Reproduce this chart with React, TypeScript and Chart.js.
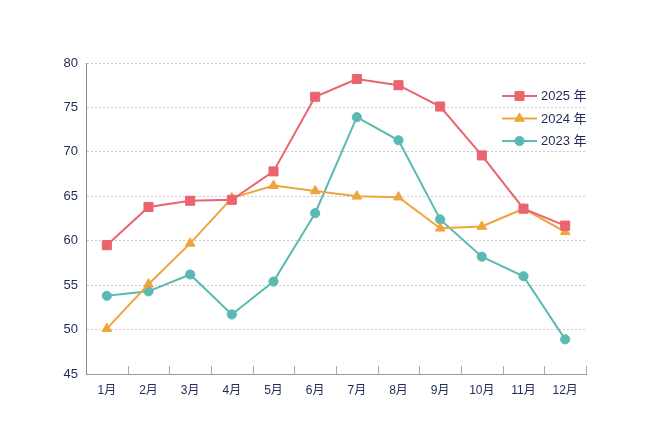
import { useRef, useEffect } from "react";
import { Chart, registerables } from "chart.js";
import { drawPoint } from "chart.js/helpers";

Chart.register(...registerables);

// Chart data
const months = ["1月", "2月", "3月", "4月", "5月", "6月", "7月", "8月", "9月", "10月", "11月", "12月"];
const seriesLabels = ["2025 年", "2024 年", "2023 年"];
const values2025 = [59.5, 63.8, 64.5, 64.6, 67.8, 76.2, 78.2, 77.5, 75.1, 69.6, 63.6, 61.7];
const values2024 = [50.1, 55.1, 59.7, 64.8, 66.2, 65.6, 65.0, 64.9, 61.4, 61.6, 63.6, 61.0];
const values2023 = [53.8, 54.3, 56.2, 51.7, 55.4, 63.1, 73.9, 71.3, 62.4, 58.2, 56.0, 48.9];
const yMin = 45;
const yMax = 80;
const yStep = 5;

const TEXT = "#1f2a56";
const FONT = "'Liberation Sans', 'Noto Sans CJK JP', sans-serif";

// Short upward tick marks between the months
const innerTicks = {
  id: "innerTicks",
  beforeDatasetsDraw(chart: any) {
    const { ctx, chartArea } = chart;
    const x = chart.scales.x;
    const step = x.getPixelForValue(1) - x.getPixelForValue(0);
    ctx.save();
    ctx.strokeStyle = "#a9a9a9";
    ctx.lineWidth = 1;
    for (let i = 1; i <= months.length; i++) {
      const px = Math.round(x.getPixelForValue(i - 1) + step / 2) + 0.5;
      ctx.beginPath();
      ctx.moveTo(px, chartArea.bottom);
      ctx.lineTo(px, chartArea.bottom - 8);
      ctx.stroke();
    }
    ctx.restore();
  },
};

// Legend drawn inside the plot, top right
const sideLegend = {
  id: "sideLegend",
  afterDraw(chart: any) {
    const { ctx } = chart;
    chart.data.datasets.forEach((ds: any, i: number) => {
      const y = 96 + i * 22.5;
      ctx.save();
      ctx.strokeStyle = ds.borderColor;
      ctx.lineWidth = 2;
      ctx.beginPath();
      ctx.moveTo(502, y);
      ctx.lineTo(537, y);
      ctx.stroke();
      ctx.fillStyle = ds.pointBackgroundColor;
      ctx.strokeStyle = ds.pointBorderColor;
      ctx.lineWidth = 1;
      drawPoint(ctx, { pointStyle: ds.pointStyle, radius: ds.pointRadius, rotation: 0, borderWidth: 1 }, 519.5, y);
      ctx.fillStyle = TEXT;
      ctx.font = "13px " + FONT;
      ctx.textBaseline = "middle";
      ctx.textAlign = "left";
      ctx.fillText(ds.label, 541, y + 0.5);
      ctx.restore();
    });
  },
};

function makeSet(label: string, data: number[], color: string, style: string, radius: number) {
  return {
    label,
    data,
    borderColor: color,
    backgroundColor: color,
    pointBackgroundColor: color,
    pointBorderColor: color,
    pointBorderWidth: 1,
    pointStyle: style,
    pointRadius: radius,
    borderWidth: 2,
    tension: 0,
  };
}

export default function App() {
  const canvasRef = useRef<HTMLCanvasElement | null>(null);
  const chartRef = useRef<Chart | null>(null);

  useEffect(() => {
    document.body.style.margin = "0";
    if (chartRef.current) {
      chartRef.current.destroy();
      chartRef.current = null;
    }
    const canvas = canvasRef.current;
    if (!canvas) return;

    chartRef.current = new Chart(canvas, {
      type: "line",
      data: {
        labels: months,
        datasets: [
          makeSet(seriesLabels[0], values2025, "#e9646f", "rect", 6.4),
          makeSet(seriesLabels[1], values2024, "#f0a43e", "triangle", 5.6),
          makeSet(seriesLabels[2], values2023, "#5bb9b3", "circle", 4.6),
        ] as any,
      },
      options: {
        animation: false,
        responsive: true,
        maintainAspectRatio: false,
        layout: { padding: { top: 63, left: 0, right: 64, bottom: 0 } },
        plugins: {
          legend: { display: false },
          tooltip: { enabled: false },
        },
        scales: {
          x: {
            offset: true,
            grid: { display: false, drawTicks: false },
            border: { display: true, color: "#9a9a9a", width: 1 },
            ticks: { color: TEXT, padding: 9, font: { family: FONT, size: 12 } },
            afterFit: (scale: any) => {
              scale.height = 66;
            },
          },
          y: {
            min: yMin,
            max: yMax,
            ticks: { stepSize: yStep, color: TEXT, padding: 8, font: { family: FONT, size: 13 } },
            grid: { color: "#c9c9c9", drawTicks: false, tickBorderDash: [2, 2] },
            border: { display: true, color: "#888888", width: 1, dash: [2, 2] as any },
            afterFit: (scale: any) => {
              scale.width = 86;
            },
          },
        },
      } as any,
      plugins: [innerTicks, sideLegend],
    });

    return () => {
      chartRef.current?.destroy();
      chartRef.current = null;
    };
  }, []);

  return (
    <div style={{ position: "relative", width: 650, height: 440, background: "#fff" }}>
      <canvas ref={canvasRef} />
    </div>
  );
}
